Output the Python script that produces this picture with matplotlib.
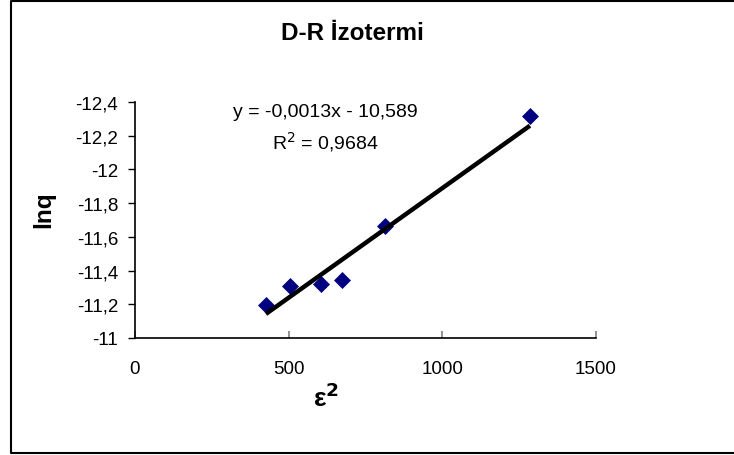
import matplotlib.pyplot as plt
from matplotlib.ticker import FuncFormatter
from matplotlib.lines import Line2D
import numpy as np

# data
eps2 = [426, 504, 605, 674, 815, 1285]
lnq = [-11.196, -11.31, -11.32, -11.342, -11.663, -12.315]

# trendline as printed on the chart
slope = -0.0013
intercept = -10.589
r2 = 0.9684

x_ticks = [0, 500, 1000, 1500]
y_ticks = [-11, -11.2, -11.4, -11.6, -11.8, -12, -12.2, -12.4]

plt.rcParams['font.family'] = ['Liberation Sans', 'DejaVu Sans']


def comma(v, pos=None):
    return "{:g}".format(v).replace('.', ',')


fig = plt.figure(figsize=(7.34, 4.56), dpi=100)
ax = fig.add_axes([135 / 734, 1 - 339 / 456, 461 / 734, 236 / 456])

# trendline over the data range
xs = np.array([min(eps2), max(eps2)])
ax.plot(xs, slope * xs + intercept, color='black', lw=3.2,
        solid_capstyle='butt', zorder=3)
ax.plot(eps2, lnq, linestyle='none', marker='D', ms=8.5,
        color='#000080', mec='#000080', mew=0.5, zorder=2, clip_on=False)

ax.set_xlim(0, 1500)
ax.set_ylim(-11, -12.4)
ax.set_xticks(x_ticks)
ax.set_yticks(y_ticks)
ax.xaxis.set_major_formatter(FuncFormatter(comma))
ax.yaxis.set_major_formatter(FuncFormatter(comma))

ax.spines['top'].set_visible(False)
ax.spines['right'].set_visible(False)
ax.spines['bottom'].set_linewidth(1.2)
ax.spines['left'].set_linewidth(1.2)
ax.tick_params(axis='x', direction='in', length=5, width=1.2,
               color='#808080', labelsize=13.5, pad=16)
ax.tick_params(axis='y', direction='out', length=5, width=1,
               color='black', labelsize=13.5, pad=7)

ax.text(618, -12.346, "y = -0,0013x - 10,589", ha='center', va='center',
        fontsize=14)
ax.text(621, -12.168, "R$^2$ = 0,9684", ha='center', va='center',
        fontsize=14)

fig.text(352 / 734, 1 - 33 / 456, "D-R İzotermi", ha='center',
         va='center', fontsize=17.5, fontweight='bold')
fig.text(44 / 734, 1 - 210 / 456, "lnq", ha='center', va='center',
         rotation=90, fontsize=17.5, fontweight='bold')
fig.text(326 / 734, 1 - 398 / 456, "ε$^\\mathbf{2}$", ha='center',
         va='center', fontsize=19, fontweight='bold')

# outer chart border (left, top, bottom)
bx = 11 / 734
fig.add_artist(Line2D([1.0, bx, bx, 1.0], [2 / 456, 2 / 456, 1 - 2 / 456, 1 - 2 / 456],
                      transform=fig.transFigure, color='black', lw=1.5))

fig.savefig('out.png', dpi=100)
